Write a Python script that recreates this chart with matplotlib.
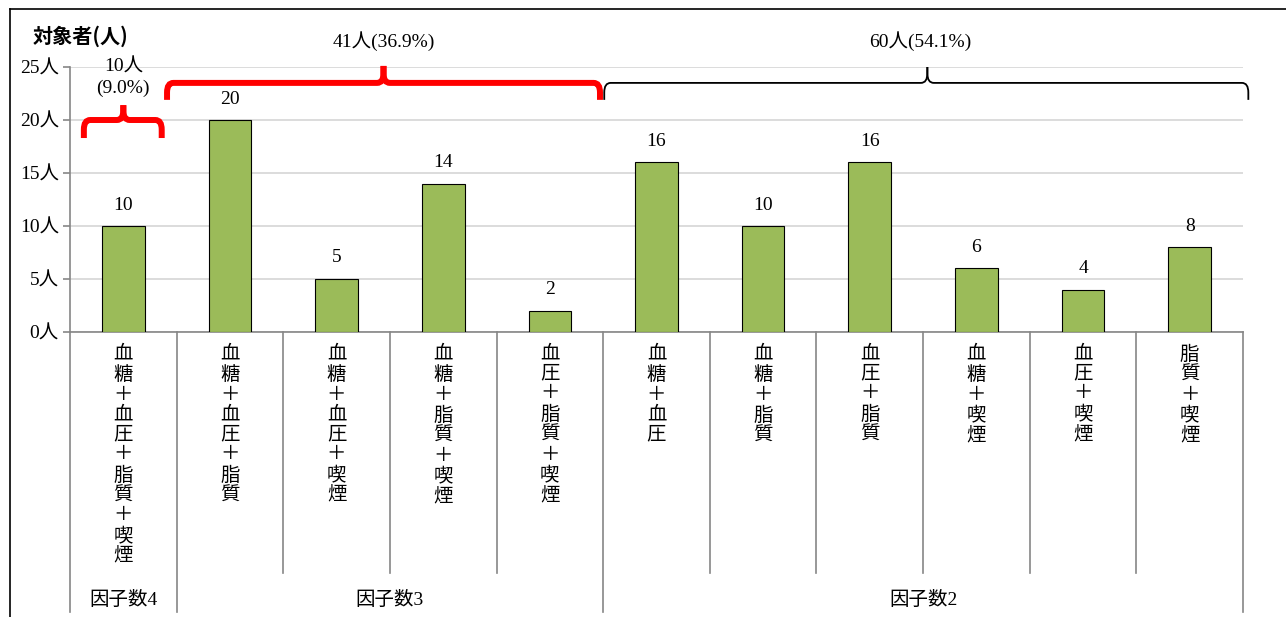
import matplotlib.pyplot as plt
from matplotlib.path import Path
from matplotlib.patches import PathPatch
from matplotlib.lines import Line2D

plt.rcParams['font.family'] = ['Liberation Serif', 'Noto Sans CJK JP']

# combinations of risk factors and number of people
combos = ["血糖＋血圧＋脂質＋喫煙",
          "血糖＋血圧＋脂質", "血糖＋血圧＋喫煙", "血糖＋脂質＋喫煙", "血圧＋脂質＋喫煙",
          "血糖＋血圧", "血糖＋脂質", "血圧＋脂質", "血糖＋喫煙", "血圧＋喫煙", "脂質＋喫煙"]
counts = [10, 20, 5, 14, 2, 16, 10, 16, 6, 4, 8]
groups = ["因子数4", "因子数3", "因子数2"]
group_sizes = [1, 4, 6]
yticks = [0, 5, 10, 15, 20, 25]

fig = plt.figure(figsize=(12.86, 6.17), dpi=100)
ax = fig.add_axes([70/1286, 1-332/617, (1243-70)/1286, (332-67)/617])

x = list(range(len(counts)))
ax.bar(x, counts, width=0.4, color='#9BBB59', edgecolor='black', linewidth=0.8, zorder=3)
for i, v in zip(x, counts):
    ax.annotate(str(v), (i, v), xytext=(0, 9), textcoords='offset points',
                ha='center', va='bottom', fontsize=14)

ax.set_xlim(-0.5, len(counts) - 0.5)
ax.set_ylim(0, 25)
ax.set_yticks(yticks)
ax.set_yticklabels([f"{t}人" for t in yticks], fontsize=14)
ax.yaxis.grid(True, color='#D9D9D9', linewidth=1.3, zorder=0)
ax.set_xticks([])
for s in ['top', 'right']:
    ax.spines[s].set_visible(False)
for s in ['left', 'bottom']:
    ax.spines[s].set_color('#868686')
    ax.spines[s].set_linewidth(1.2)
ax.tick_params(axis='y', length=5, width=1.2, color='#868686', pad=3)

# multi-level category axis below the bars
bounds = [0]
for n in group_sizes:
    bounds.append(bounds[-1] + n)
for k in range(len(counts) + 1):
    xb = k - 0.5
    y_end = -26.4 if k in bounds else -22.7
    ax.plot([xb, xb], [0, y_end], color='#868686', lw=1.2, clip_on=False)
for i, name in enumerate(combos):
    ax.text(i, -1.3, "\n".join(name), ha='center', va='top', fontsize=14,
            linespacing=1.22, clip_on=False)
for g, n, b in zip(groups, group_sizes, bounds):
    ax.text(b + n/2 - 0.5, -25.3, g, ha='center', va='center', fontsize=14, clip_on=False)


def brace(x0, x1, xm, y, down, up, color, lw):
    rx, ry = 0.06, 0.9
    left = [(x0, y - down), (x0, y - ry), (x0, y), (x0 + rx, y),
            (xm - rx, y), (xm, y), (xm, y + ry), (xm, y + up)]
    right = [(xm, y + up), (xm, y + ry), (xm, y), (xm + rx, y),
             (x1 - rx, y), (x1, y), (x1, y - ry), (x1, y - down)]
    codes = [Path.MOVETO, Path.LINETO, Path.CURVE3, Path.CURVE3,
             Path.LINETO, Path.CURVE3, Path.CURVE3, Path.LINETO]
    for pts in (left, right):
        ax.add_patch(PathPatch(Path(pts, codes), fill=False, edgecolor=color,
                               lw=lw, clip_on=False, zorder=4, capstyle='butt'))


total = sum(counts)
g_sums = [sum(counts[b:b + n]) for b, n in zip(bounds, group_sizes)]
pct = [s / total * 100 for s in g_sums]

brace(-0.37, 0.36, 0.0, 20.0, 1.7, 1.4, '#FF0000', 4.3)
ax.text(0.0, 24.0, f"{g_sums[0]}人\n({pct[0]:.1f}%)", ha='center', va='center',
        fontsize=14, linespacing=1.3, clip_on=False)
brace(0.41, 4.47, 2.44, 23.5, 1.6, 1.6, '#FF0000', 4.3)
ax.text(2.44, 27.4, f"{g_sums[1]}人({pct[1]:.1f}%)", ha='center', va='center',
        fontsize=14, clip_on=False)
brace(4.51, 10.55, 7.54, 23.5, 1.6, 1.5, 'black', 1.3)
ax.text(7.47, 27.4, f"{g_sums[2]}人({pct[2]:.1f}%)", ha='center', va='center',
        fontsize=14, clip_on=False)

fig.text(33/1286, 1 - 36/617, "対象者(人)", family=['Noto Sans CJK JP'],
         fontweight='bold', fontsize=14.5, ha='left', va='center')

# outer frame (top and left edges)
fig.add_artist(Line2D([10/1286, 1], [1 - 9/617, 1 - 9/617], color='black', lw=1.2))
fig.add_artist(Line2D([10/1286, 10/1286], [0, 1 - 9/617], color='black', lw=1.2))

fig.savefig('out.png', dpi=100)
